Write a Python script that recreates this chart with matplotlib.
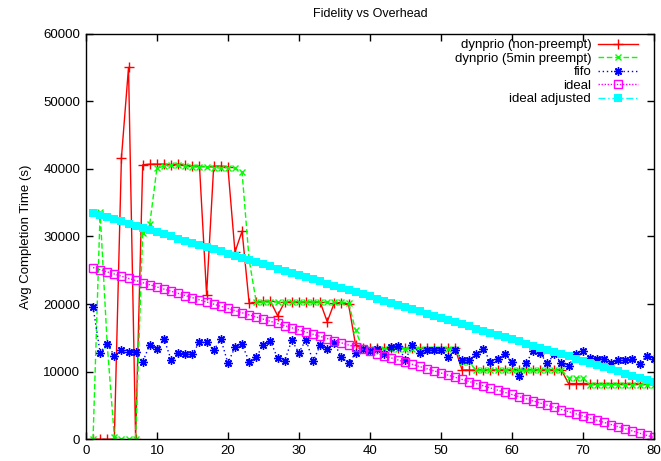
import matplotlib
matplotlib.use("Agg")
import matplotlib.pyplot as plt

plt.rcParams['font.family'] = ['Liberation Sans', 'DejaVu Sans']

# x positions (runs 1..80)
x = list(range(1, 81))

dynprio_nonpreempt = [
    0, 0, 0, 0, 41600, 55000, 0, 40600, 40700, 40700,
    40700, 40600, 40700, 40500, 40400, 40400, 21400, 40400, 40400, 40300,
    27700, 30800, 20100, 20300, 20400, 20400, 18300, 20300, 20300, 20300,
    20300, 20300, 20300, 17400, 20200, 20200, 20000, 13900, 13450, 13450,
    13450, 13450, 13450, 13450, 13450, 13450, 13450, 13450, 13450, 13450,
    13450, 13450, 10250, 10250, 10250, 10250, 10250, 10250, 10250, 10250,
    10250, 10250, 10250, 10250, 10250, 10250, 10250, 8250, 8250, 8250,
    8250, 8250, 8250, 8250, 8250, 8250, 8250, 8250, 8250, 8250,
]

dynprio_5min = [
    0, 33600, 14000, 400, 0, 0, 0, 30500, 31900, 40100,
    40400, 40500, 40500, 40400, 40300, 40300, 40300, 40200, 40100, 40200,
    40100, 39500, 26500, 20300, 20300, 20300, 20300, 20300, 20300, 20300,
    20300, 20300, 20300, 20300, 20300, 20300, 20200, 16100, 13400, 13400,
    13400, 13400, 13400, 13400, 13400, 13400, 13400, 13400, 13400, 13400,
    13400, 13400, 11400, 11400, 10200, 10200, 10200, 10200, 10200, 10200,
    10200, 10200, 10200, 10200, 10200, 10200, 10200, 9100, 9100, 9100,
    8100, 8100, 8100, 8100, 8100, 8100, 8100, 8100, 8100, 8100,
]

fifo = [
    19600, 12810, 14140, 12370, 13210, 12960, 12960, 11480, 14000, 13360,
    14840, 11780, 12720, 12570, 12570, 14440, 14440, 13160, 14840, 11290,
    13600, 14050, 11480, 12170, 14000, 14560, 11980, 11600, 14640, 12810,
    14740, 11530, 13900, 13400, 14200, 12130, 11280, 12720, 13330, 13100,
    13300, 12600, 13700, 13800, 11730, 13950, 12720, 13210, 13210, 13210,
    12130, 13210, 11730, 11730, 12570, 13310, 11480, 11880, 12570, 11390,
    9300, 11240, 13080, 12720, 11240, 12600, 11280, 10870, 12600, 13060,
    12100, 11930, 11930, 11240, 11730, 11730, 11930, 11100, 12350, 11930,
]

ideal = [
    25400, 25082, 24764, 24446, 24128, 23810, 23492, 23174, 22856, 22538,
    22220, 21902, 21584, 21266, 20948, 20630, 20312, 19994, 19676, 19358,
    19040, 18722, 18404, 18086, 17768, 17450, 17132, 16814, 16496, 16178,
    15860, 15542, 15224, 14906, 14588, 14270, 13952, 13634, 13316, 12998,
    12680, 12362, 12044, 11726, 11408, 11090, 10772, 10454, 10136, 9818,
    9500, 9182, 8864, 8546, 8228, 7910, 7592, 7274, 6956, 6638,
    6320, 6002, 5684, 5366, 5048, 4730, 4412, 4094, 3776, 3458,
    3140, 2822, 2504, 2186, 1868, 1550, 1232, 914, 596, 278,
]

ideal_adjusted = [
    33500, 33183, 32866, 32549, 32232, 31915, 31598, 31281, 30964, 30647,
    30330, 30013, 29696, 29379, 29062, 28745, 28428, 28111, 27794, 27477,
    27160, 26843, 26526, 26209, 25892, 25575, 25258, 24941, 24624, 24307,
    23990, 23673, 23356, 23039, 22722, 22405, 22088, 21771, 21454, 21137,
    20820, 20503, 20186, 19869, 19552, 19235, 18918, 18601, 18284, 17967,
    17650, 17333, 17016, 16699, 16382, 16065, 15748, 15431, 15114, 14797,
    14480, 14163, 13846, 13529, 13212, 12895, 12578, 12261, 11944, 11627,
    11310, 10993, 10676, 10359, 10042, 9725, 9408, 9091, 8774, 8457,
]

fig = plt.figure(figsize=(6.61, 4.61), dpi=100)
ax = fig.add_axes([0.130, 0.047, 0.859, 0.880])

ax.plot(x, dynprio_nonpreempt, color='#ff0000', linestyle='-', linewidth=1,
        marker='+', markersize=7, markeredgewidth=1, label='dynprio (non-preempt)')
ax.plot(x, dynprio_5min, color='#00ff00', linestyle=(0, (4, 2)), linewidth=1,
        marker='x', markersize=5, markeredgewidth=1, label='dynprio (5min preempt)')
ax.plot(x, fifo, color='#0000ff', linestyle=(0, (1, 2)), linewidth=1,
        marker=(8, 2, 0), markersize=6, markeredgewidth=1, label='fifo')
ax.plot(x, ideal, color='#ff00ff', linestyle=(0, (1, 1.2)), linewidth=1,
        marker='s', markersize=6, markerfacecolor='none', markeredgewidth=1,
        label='ideal')
ax.plot(x, ideal_adjusted, color='#00ffff', linestyle=(0, (5, 2, 1, 2)), linewidth=1,
        marker='s', markersize=6, markeredgewidth=0, label='ideal adjusted')

ax.set_xlim(0, 80)
ax.set_ylim(0, 60000)
ax.set_xticks(range(0, 81, 10))
ax.set_yticks(range(0, 60001, 10000))
ax.tick_params(direction='in', top=True, right=True, length=5, width=1,
               labelsize=9.5, pad=4)
for s in ax.spines.values():
    s.set_linewidth(1)

ax.set_title('Fidelity vs Overhead', fontsize=9, pad=12)
ax.set_ylabel('Avg Completion Time (s)', fontsize=9.5, labelpad=8)

ax.legend(loc='upper right', bbox_to_anchor=(638 / 661, 1 - 39 / 461),
          bbox_transform=fig.transFigure, frameon=False, markerfirst=False,
          numpoints=1, fontsize=9.5, handlelength=3.0, handletextpad=0.55,
          labelspacing=0.1, borderpad=0, borderaxespad=0)

fig.savefig('out.png', dpi=100)
